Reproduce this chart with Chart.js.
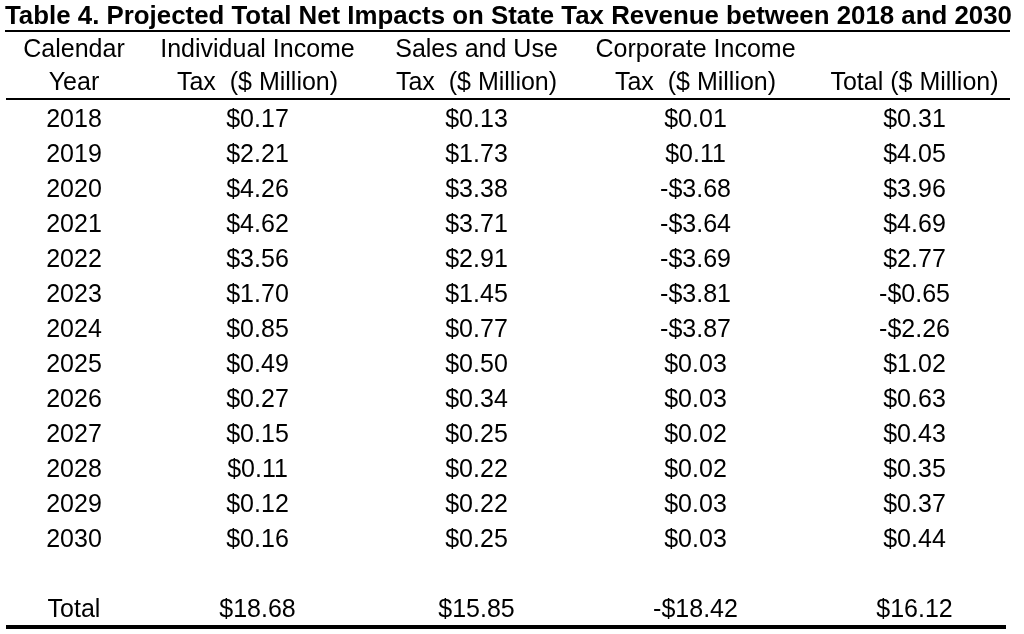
<!DOCTYPE html>
<html>
<head>
<meta charset="utf-8">
<script src="https://cdn.jsdelivr.net/npm/chart.js@4.4.1/dist/chart.umd.min.js"></script>
<style>
  html, body { margin: 0; padding: 0; background: #ffffff; }
  canvas { display: block; }
</style>
</head>
<body>
<canvas id="taxTable" width="1024" height="634"></canvas>
<script>
// table data
var titleText = 'Table 4. Projected Total Net Impacts on State Tax Revenue between 2018 and 2030';
var columnKeys = ['Individual Income Tax', 'Sales and Use Tax', 'Corporate Income Tax', 'Total'];
var headerLine1 = ['Calendar', 'Individual Income', 'Sales and Use', 'Corporate Income', ''];
var headerLine2 = ['Year', 'Tax  ($ Million)', 'Tax  ($ Million)', 'Tax  ($ Million)', 'Total ($ Million)'];
var years = ['2018', '2019', '2020', '2021', '2022', '2023', '2024', '2025', '2026', '2027', '2028', '2029', '2030'];
var individualIncome = [0.17, 2.21, 4.26, 4.62, 3.56, 1.70, 0.85, 0.49, 0.27, 0.15, 0.11, 0.12, 0.16];
var salesAndUse = [0.13, 1.73, 3.38, 3.71, 2.91, 1.45, 0.77, 0.50, 0.34, 0.25, 0.22, 0.22, 0.25];
var corporateIncome = [0.01, 0.11, -3.68, -3.64, -3.69, -3.81, -3.87, 0.03, 0.03, 0.02, 0.02, 0.03, 0.03];
var totalImpact = [0.31, 4.05, 3.96, 4.69, 2.77, -0.65, -2.26, 1.02, 0.63, 0.43, 0.35, 0.37, 0.44];
var columnTotals = [18.68, 15.85, -18.42, 16.12];
var totalLabel = 'Total';

var FONT = '"Liberation Sans", Arial, Helvetica, sans-serif';
var CELL_SIZE = 25;

var rowLabels = years.concat([' ', totalLabel]);
var seriesSet = [individualIncome, salesAndUse, corporateIncome, totalImpact];

function formatMoney(v) {
    var s = '$' + Math.abs(v).toFixed(2);
    return v < 0 ? '-' + s : s;
}

// one invisible point per cell, placed by the category scales
function getCellDatasets() {
    var _sets = [];
    for (var c = 0; c < columnKeys.length; c++) {
        var _data = [];
        for (var r = 0; r < years.length; r++) {
            _data.push({ x: columnKeys[c], y: years[r], v: seriesSet[c][r] });
        }
        _data.push({ x: columnKeys[c], y: totalLabel, v: columnTotals[c] });
        _sets.push({
            label: columnKeys[c],
            data: _data,
            pointRadius: 0,
            pointHoverRadius: 0,
            showLine: false
        });
    }
    return _sets;
}

function hRule(ctx, x1, x2, y, w) {
    ctx.save();
    ctx.strokeStyle = '#000000';
    ctx.lineWidth = w;
    ctx.beginPath();
    ctx.moveTo(x1, y);
    ctx.lineTo(x2, y);
    ctx.stroke();
    ctx.restore();
}

var tablePlugin = {
    id: 'tablePlugin',
    afterDatasetsDraw: function (chart) {
        var ctx = chart.ctx;
        var area = chart.chartArea;
        var xs = chart.scales.x;
        var ys = chart.scales.y;
        var yearX = area.left - 74;
        var shift = Math.round(CELL_SIZE * 0.36);

        // title, fitted to the table width
        ctx.save();
        ctx.fillStyle = '#000000';
        ctx.font = 'bold 26px ' + FONT;
        ctx.textBaseline = 'alphabetic';
        ctx.textAlign = 'left';
        var tw = ctx.measureText(titleText).width;
        ctx.translate(5, 24);
        ctx.scale(1007 / tw, 1);
        ctx.fillText(titleText, 0, 0);
        ctx.restore();

        hRule(ctx, 5, 1010, 31, 2);
        hRule(ctx, 6, 1010, area.top - 1.5, 2);
        hRule(ctx, 6, 1006, area.bottom + 2, 4);

        ctx.save();
        ctx.fillStyle = '#000000';
        ctx.font = CELL_SIZE + 'px ' + FONT;
        ctx.textAlign = 'center';
        ctx.textBaseline = 'alphabetic';

        // column headers
        var h1 = area.top - 53 + shift;
        var h2 = area.top - 20 + shift;
        ctx.fillText(headerLine1[0], yearX, h1);
        ctx.fillText(headerLine2[0], yearX, h2);
        for (var c = 0; c < columnKeys.length; c++) {
            var hx = xs.getPixelForValue(c);
            ctx.fillText(headerLine1[c + 1], hx, h1);
            ctx.fillText(headerLine2[c + 1], hx, h2);
        }

        // row labels
        for (var r = 0; r < rowLabels.length; r++) {
            ctx.fillText(rowLabels[r], yearX, ys.getPixelForValue(r) + shift);
        }

        // value cells
        chart.data.datasets.forEach(function (ds, i) {
            var meta = chart.getDatasetMeta(i);
            meta.data.forEach(function (pt, j) {
                ctx.fillText(formatMoney(ds.data[j].v), pt.x, pt.y + shift);
            });
        });
        ctx.restore();
    }
};

var ctx = document.getElementById('taxTable');
var TaxChart = new Chart(ctx, {
    type: 'scatter',
    data: { datasets: getCellDatasets() },
    options: {
        responsive: false,
        animation: false,
        devicePixelRatio: 1,
        layout: { padding: { left: 148, right: 0, top: 100.5, bottom: 9 } },
        plugins: { legend: { display: false }, tooltip: { enabled: false } },
        scales: {
            x: { type: 'category', labels: columnKeys, offset: true, display: false },
            y: { type: 'category', labels: rowLabels, offset: true, display: false }
        }
    },
    plugins: [tablePlugin]
});
</script>
</body>
</html>
